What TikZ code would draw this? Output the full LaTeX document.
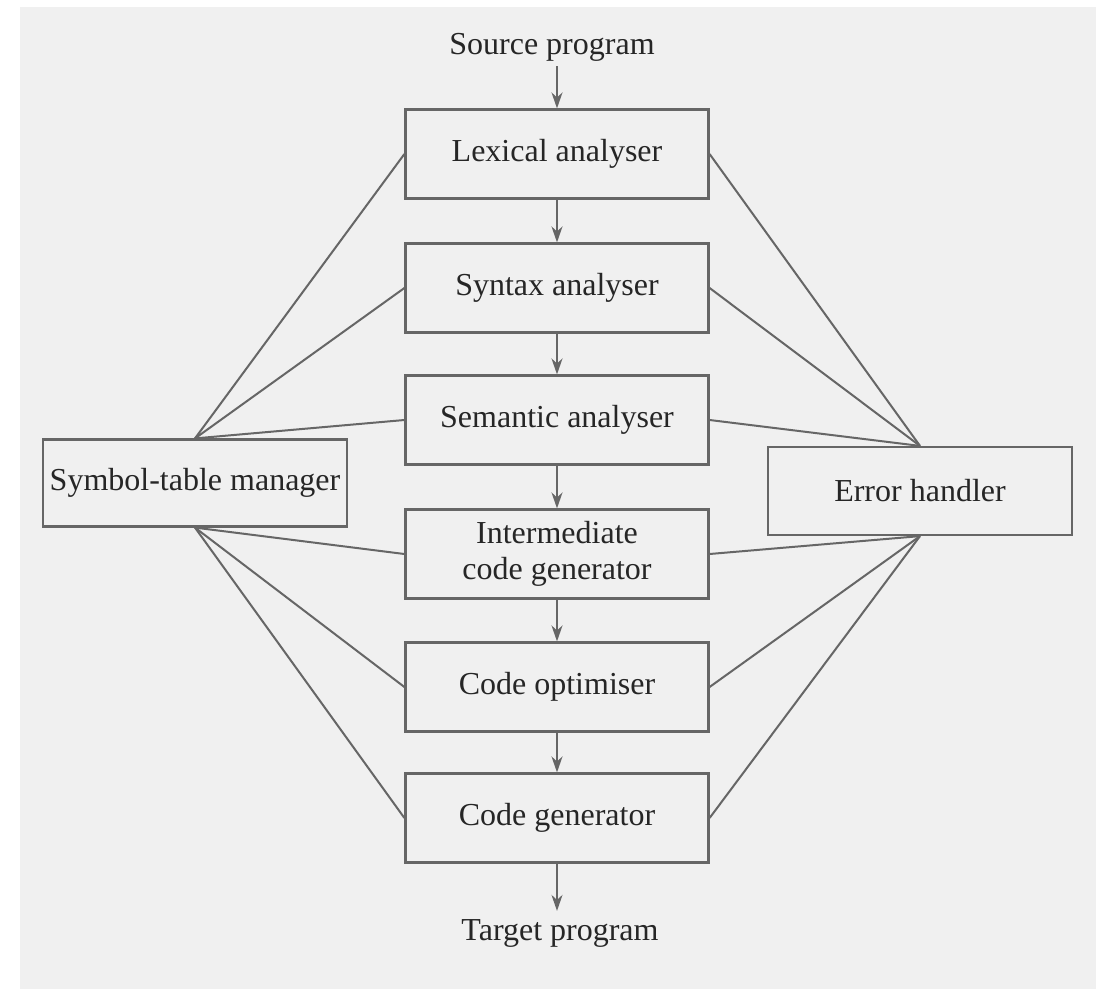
\documentclass[tikz,border=0pt]{standalone}
\usepackage{fontspec}
\setmainfont{Liberation Serif}
\usetikzlibrary{arrows.meta}
\begin{document}
\begin{tikzpicture}[x=1pt,y=-1pt,
  lbl/.style={font=\fontsize{32}{37}\selectfont, text=black!85, inner sep=0pt},
  stage/.style={lbl, draw=black!60, line width=2.2pt, minimum width=303pt, minimum height=89pt, align=center},
  side/.style={lbl, draw=black!60, line width=2.2pt, minimum width=304pt, minimum height=87pt},
  flow/.style={draw=black!60, line width=2pt, -{Stealth[length=16pt,width=11pt]}},
  link/.style={draw=black!60, line width=2pt}]
\useasboundingbox (0,0) rectangle (1096,989);
\fill[gray!12] (20,7) rectangle (1096,989);
\node[lbl] (src) at (552,47) {Source program};
\node[stage] (lex) at (557,154) {Lexical analyser};
\node[stage] (syn) at (557,288) {Syntax analyser};
\node[stage] (sem) at (557,420) {Semantic analyser};
\node[stage] (icg) at (557,554) {Intermediate\\[-1pt]code generator};
\node[stage] (opt) at (557,687) {Code optimiser};
\node[stage] (gen) at (557,818) {Code generator};
\node[lbl] (tgt) at (560,933) {Target program};
\node[side] (sym) at (195,483) {Symbol-table manager};
\node[side, minimum height=88pt] (err) at (920,491) {Error handler};
\path (lex.north |- src.south) ++(0,5) coordinate (srcout);
\path (gen.south |- tgt.north) ++(0,-8) coordinate (tgtin);
\draw[flow] (srcout) -- (lex.north);
\draw[flow] (lex) -- (syn);
\draw[flow] (syn) -- (sem);
\draw[flow] (sem) -- (icg);
\draw[flow] (icg) -- (opt);
\draw[flow] (opt) -- (gen);
\draw[flow] (gen.south) -- (tgtin);
\foreach \n in {lex,syn,sem} {
  \draw[link] (sym.north) -- (\n.west);
  \draw[link] (err.north) -- (\n.east);
}
\foreach \n in {icg,opt,gen} {
  \draw[link] (sym.south) -- (\n.west);
  \draw[link] (err.south) -- (\n.east);
}
\end{tikzpicture}
\end{document}
